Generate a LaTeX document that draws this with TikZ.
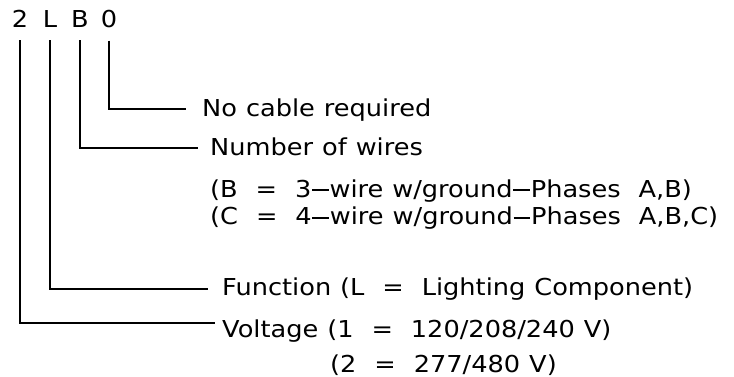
\documentclass[tikz,border=0pt]{standalone}
\usepackage{fontspec}
\setmainfont[FakeStretch=1.1,WordSpace=1.1]{DejaVu Sans}
\usetikzlibrary{positioning}
\newcommand\partfont{\fontsize{23.3}{28}\selectfont}
\newcommand\wsp{\ \ }
\newcommand\cdash{\kern0.03em\rule[0.26em]{0.72em}{0.09em}\kern0.03em}
\tikzset{
  digit/.style={font=\partfont, inner sep=0pt, anchor=base},
  desc/.style={font=\partfont, inner sep=0pt, anchor=base west},
  lead/.style={line width=1.5pt, color=black},
}

\begin{document}
\begin{tikzpicture}[x=1pt,y=-1pt]
  \useasboundingbox (0,0) rectangle (734,377);
  % the part number
  \node[digit] (c2) at (20,28) {2};
  \node[digit] (cL) at (50,28) {L};
  \node[digit] (cB) at (80,28) {B};
  \node[digit] (c0) at (109,28) {0};
  % what each position means
  \node[desc] (tNo)  at (202,117) {No cable required};
  \node[desc] (tNum) at (210,156) {Number of wires};
  \node[desc] (tB)   at (210,197) {(B\wsp=\wsp3\cdash wire w/ground\cdash Phases\wsp A,B)};
  \node[desc] (tC)   at (210,225) {(C\wsp=\wsp4\cdash wire w/ground\cdash Phases\wsp A,B,C)};
  \node[desc] (tFn)  at (222,295) {Function (L\wsp=\wsp Lighting Component)};
  \node[desc] (tV1)  at (222,337) {Voltage (1\wsp=\wsp120/208/240 V)};
  \node[desc] (tV2)  at (330,372) {(2\wsp=\wsp277/480 V)};
  % elbow ends, just short of the texts
  \coordinate (k0) at (186,109);
  \coordinate (kB) at (198,148);
  \coordinate (kL) at (208,289);
  \coordinate (k2) at (215,323);
  \draw[lead] ([yshift=-12pt]c0.south) |- (k0);
  \draw[lead] ([yshift=-12pt]cB.south) |- (kB);
  \draw[lead] ([yshift=-12pt]cL.south) |- (kL);
  \draw[lead] ([yshift=-12pt]c2.south) |- (k2);
\end{tikzpicture}
\end{document}
